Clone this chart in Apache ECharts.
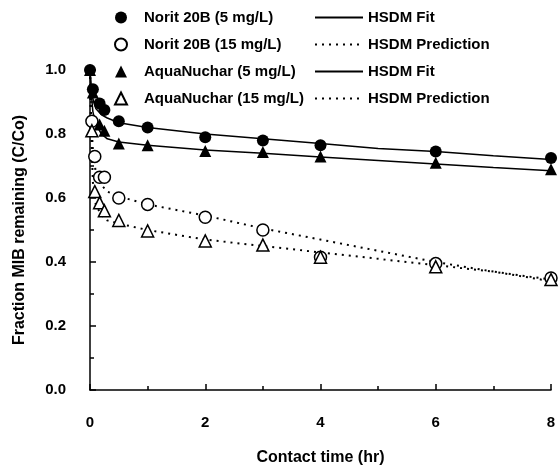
<!DOCTYPE html>
<html>
<head>
<meta charset="utf-8">
<script src="https://cdn.jsdelivr.net/npm/echarts@6/dist/echarts.min.js"></script>
<style>
  html, body { margin: 0; padding: 0; background: #fff; }
  #chart { width: 560px; height: 475px; }
</style>
</head>
<body>
<div id="chart"></div>
<script>
// measured points (hr, C/Co)
const noritLowT = [0, 0.05, 0.167, 0.25, 0.5, 1, 2, 3, 4, 6, 8]
const noritLow = [1.0, 0.94, 0.895, 0.875, 0.84, 0.82, 0.79, 0.78, 0.765, 0.745, 0.725]

const noritHighT = [0.033, 0.083, 0.167, 0.25, 0.5, 1, 2, 3, 4, 6, 8]
const noritHigh = [0.84, 0.73, 0.665, 0.665, 0.60, 0.58, 0.54, 0.50, 0.415, 0.395, 0.35]

const aquaLowT = [0, 0.05, 0.167, 0.25, 0.5, 1, 2, 3, 4, 6, 8]
const aquaLow = [1.0, 0.93, 0.83, 0.81, 0.77, 0.765, 0.747, 0.744, 0.73, 0.71, 0.69]

const aquaHighT = [0.033, 0.083, 0.167, 0.25, 0.5, 1, 2, 3, 4, 6, 8]
const aquaHigh = [0.81, 0.62, 0.585, 0.56, 0.53, 0.497, 0.466, 0.453, 0.415, 0.385, 0.345]

// HSDM curves
const modelT = [0, 0.02, 0.05, 0.1, 0.2, 0.3, 0.5, 1, 2, 3, 4, 5, 6, 7, 8]
const noritFit = [1.0, 0.95, 0.91, 0.88, 0.86, 0.85, 0.835, 0.82, 0.80, 0.785, 0.77, 0.755, 0.745, 0.732, 0.72]
const aquaFit = [1.0, 0.93, 0.87, 0.83, 0.80, 0.785, 0.775, 0.765, 0.75, 0.74, 0.728, 0.717, 0.706, 0.695, 0.685]
const noritPred = [1.0, 0.85, 0.75, 0.68, 0.64, 0.62, 0.605, 0.58, 0.545, 0.505, 0.47, 0.435, 0.40, 0.37, 0.34]
const aquaPred = [1.0, 0.80, 0.65, 0.58, 0.545, 0.53, 0.52, 0.50, 0.47, 0.45, 0.43, 0.41, 0.39, 0.37, 0.345]

const pairs = (xs, ys) => xs.map((x, i) => [x, ys[i]])

const font = 'Liberation Sans, Arial, sans-serif'
const txt = { color: '#000', fontFamily: font, fontWeight: 'bold', fontSize: 15 }

const scatterNames = ['Norit 20B (5 mg/L)', 'Norit 20B (15 mg/L)', 'AquaNuchar (5 mg/L)', 'AquaNuchar (15 mg/L)']
const lineNames = ['fitNorit', 'predNorit', 'fitAqua', 'predAqua']
const lineLabels = { fitNorit: 'HSDM Fit', predNorit: 'HSDM Prediction', fitAqua: 'HSDM Fit', predAqua: 'HSDM Prediction' }

function dots(name, data, symbol, filled) {
  return {
    name, type: 'scatter', data, symbol, symbolSize: 12, z: 5,
    itemStyle: filled
      ? { color: '#000', opacity: 1 }
      : { color: '#fff', borderColor: '#000', borderWidth: 1.5, opacity: 1 }
  }
}
function curve(name, data, dotted) {
  return {
    name, type: 'line', data, symbol: 'none', showSymbol: false, z: 2,
    itemStyle: { color: '#000' },
    lineStyle: { color: '#000', width: dotted ? 2 : 1.5, type: dotted ? [2, 5] : 'solid' }
  }
}

const chart = echarts.init(document.getElementById('chart'))
chart.setOption({
  animation: false,
  backgroundColor: '#fff',
  grid: { left: 90, right: 9, top: 70, bottom: 85 },
  legend: [
    {
      data: scatterNames, orient: 'vertical', left: 109, top: 5,
      itemWidth: 12, itemHeight: 12, itemGap: 12,
      textStyle: { ...txt, padding: [0, 0, 0, 12] }
    },
    {
      data: lineNames, orient: 'vertical', left: 309, top: 5,
      itemWidth: 48, itemHeight: 12, itemGap: 12,
      itemStyle: { opacity: 0 },
      formatter: n => lineLabels[n],
      textStyle: txt
    }
  ],
  xAxis: {
    type: 'value', min: 0, max: 8, interval: 2,
    name: 'Contact time (hr)', nameLocation: 'middle', nameGap: 60,
    nameTextStyle: { ...txt, fontSize: 16 },
    axisLine: { lineStyle: { color: '#000', width: 1.5 } },
    axisTick: { inside: true, length: 6, lineStyle: { color: '#000', width: 1.5 } },
    minorTick: { show: true, splitNumber: 2, length: 4, lineStyle: { color: '#000', width: 1.5 } },
    axisLabel: { ...txt, margin: 25 },
    splitLine: { show: false }
  },
  yAxis: {
    type: 'value', min: 0, max: 1, interval: 0.2,
    name: 'Fraction MIB remaining (C/Co)', nameLocation: 'middle', nameGap: 62,
    nameTextStyle: { ...txt, fontSize: 16 },
    axisLine: { show: true, lineStyle: { color: '#000', width: 1.5 } },
    axisTick: { show: true, inside: true, length: 6, lineStyle: { color: '#000', width: 1.5 } },
    minorTick: { show: true, splitNumber: 2, length: 4, lineStyle: { color: '#000', width: 1.5 } },
    axisLabel: { ...txt, margin: 24, formatter: v => v.toFixed(1) },
    splitLine: { show: false }
  },
  series: [
    curve('fitNorit', pairs(modelT, noritFit), false),
    curve('predNorit', pairs(modelT, noritPred), true),
    curve('fitAqua', pairs(modelT, aquaFit), false),
    curve('predAqua', pairs(modelT, aquaPred), true),
    dots(scatterNames[0], pairs(noritLowT, noritLow), 'circle', true),
    dots(scatterNames[1], pairs(noritHighT, noritHigh), 'circle', false),
    dots(scatterNames[2], pairs(aquaLowT, aquaLow), 'triangle', true),
    dots(scatterNames[3], pairs(aquaHighT, aquaHigh), 'triangle', false)
  ]
})
</script>
</body>
</html>
